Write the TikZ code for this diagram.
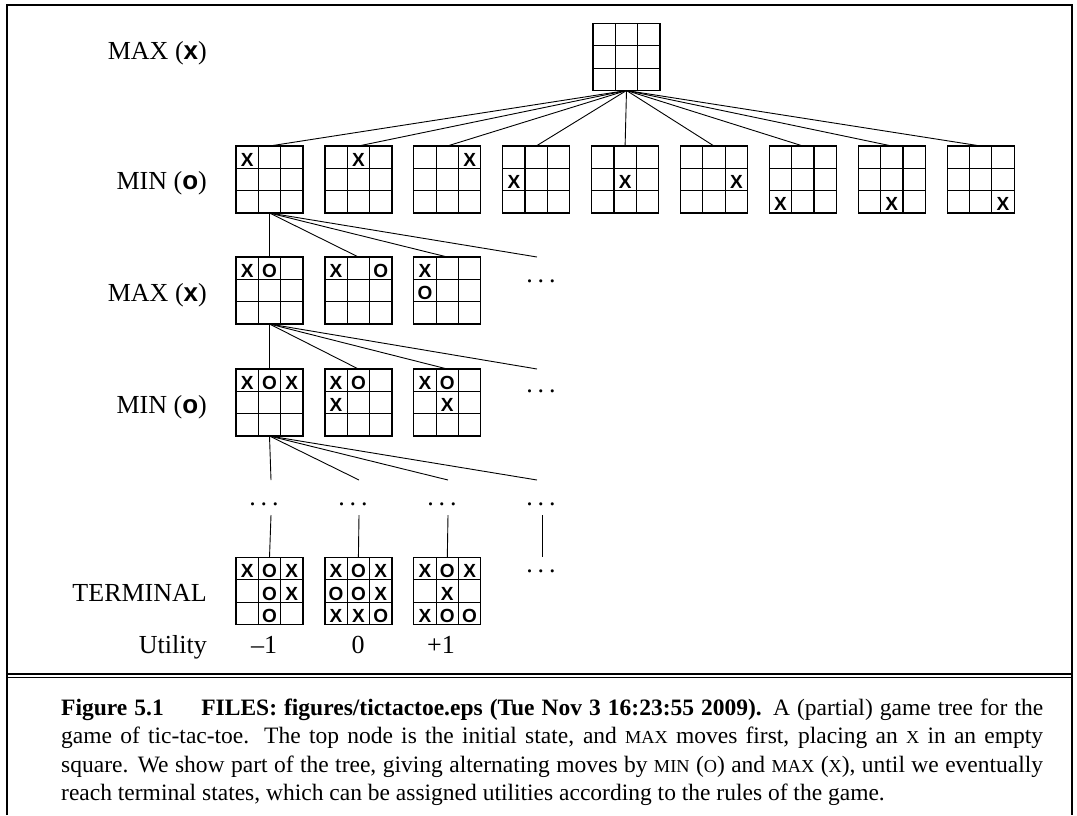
\documentclass[tikz,border=0pt]{standalone}
\usepackage{fontspec}
\setmainfont{Liberation Serif}
\setsansfont{Liberation Sans}
\begin{document}
\tikzset{
  board/.style={draw, line width=1.2pt, minimum size=67pt, inner sep=0pt, outer sep=0pt},
  gridl/.style={line width=1.2pt},
  mk/.style={font=\fontsize{19}{19}\selectfont\sffamily\bfseries, inner sep=0pt},
  edge/.style={line width=0.9pt},
  lab/.style={font=\fontsize{26}{26}\selectfont, anchor=base east, inner sep=0pt},
  util/.style={font=\fontsize{26}{26}\selectfont, anchor=base, inner sep=0pt},
  dotsn/.style={font=\fontsize{26}{26}\selectfont, anchor=base, inner sep=0pt},
  captxt/.style={font=\fontsize{23.5}{23.5}\selectfont, anchor=base west, inner sep=0pt},
  framel/.style={line width=2pt},
}
\newcommand\tttgrid[3]{%
  \node[board] (#1) at (#2,#3) {};
  \draw[gridl] (#2-11.167,#3-33.5) -- (#2-11.167,#3+33.5)
               (#2+11.167,#3-33.5) -- (#2+11.167,#3+33.5)
               (#2-33.5,#3-11.167) -- (#2+33.5,#3-11.167)
               (#2-33.5,#3+11.167) -- (#2+33.5,#3+11.167);
}
\newcommand\tttmarks[3]{%
  \foreach \cc/\rr/\mm in {#3} {\node[mk] at ({#1+(\cc-1)*22.333},{#2+(\rr-1)*22.333+2.5}) {\mm};}
}
\newcommand\tttb[4]{\tttgrid{#1}{#2}{#3}\tttmarks{#2}{#3}{#4}}
\newcommand\dotsx{.\kern4.8pt.\kern4.8pt.}
\newcommand\scx[1]{{\fontsize{18.3}{18.3}\selectfont #1}}
\begin{tikzpicture}[x=1pt,y=-1pt]
\useasboundingbox (0,0) rectangle (1077,815);
% frame
\draw[framel] (7,815) -- (7,5) -- (1072,5) -- (1072,815);
\draw[framel] (7,674.3) -- (1072,674.3);
\draw[line width=1.2pt] (7,677.6) -- (1072,677.6);
% labels
\node[lab] (l1) at (207,59) {MAX ({\sffamily\bfseries x})};
\node[lab] (l2) at (207,189) {MIN ({\sffamily\bfseries o})};
\node[lab] (l3) at (207,301) {MAX ({\sffamily\bfseries x})};
\node[lab] (l4) at (207,413) {MIN ({\sffamily\bfseries o})};
\node[lab] (l5) at (207,601) {TERMINAL};
\node[lab] (l6) at (207,653) {Utility};
% root
\tttgrid{r}{626.5}{57}
% MIN row
\tttb{a1}{269.5}{179.5}{0/0/X}
\tttb{a2}{358.4}{179.5}{1/0/X}
\tttb{a3}{447.3}{179.5}{2/0/X}
\tttb{a4}{536.2}{179.5}{0/1/X}
\tttb{a5}{625.1}{179.5}{1/1/X}
\tttb{a6}{714.0}{179.5}{2/1/X}
\tttb{a7}{802.9}{179.5}{0/2/X}
\tttb{a8}{891.8}{179.5}{1/2/X}
\tttb{a9}{980.7}{179.5}{2/2/X}
\foreach \k in {1,...,9} \draw[edge] (r.south) -- (a\k.north);
% MAX row
\tttb{b1}{269.5}{290.5}{0/0/X,1/0/O}
\tttb{b2}{358.4}{290.5}{0/0/X,2/0/O}
\tttb{b3}{447.3}{290.5}{0/0/X,0/1/O}
\coordinate (b4) at (537,257);
\foreach \k in {b1.north,b2.north,b3.north,b4} \draw[edge] (a1.south) -- (\k);
\node[dotsn] (db) at (541,282) {\dotsx};
% MIN row 2
\tttb{c1}{269.5}{402.5}{0/0/X,1/0/O,2/0/X}
\tttb{c2}{358.4}{402.5}{0/0/X,1/0/O,0/1/X}
\tttb{c3}{447.3}{402.5}{0/0/X,1/0/O,1/1/X}
\coordinate (c4) at (537,369);
\foreach \k in {c1.north,c2.north,c3.north,c4} \draw[edge] (b1.south) -- (\k);
\node[dotsn] (dc) at (541,392) {\dotsx};
% lower edges
\coordinate (e1) at (271,480);
\coordinate (e2) at (359,480);
\coordinate (e3) at (448,480);
\coordinate (e4) at (537,480);
\foreach \k in {e1,e2,e3,e4} \draw[edge] (c1.south) -- (\k);
\node[dotsn] (d1) at (264,505) {\dotsx};
\node[dotsn] (d2) at (353,505) {\dotsx};
\node[dotsn] (d3) at (442,505) {\dotsx};
\node[dotsn] (d4) at (541,505) {\dotsx};
% terminal
\tttb{t1}{269.5}{591}{0/0/X,1/0/O,2/0/X,1/1/O,2/1/X,1/2/O}
\tttb{t2}{358.4}{591}{0/0/X,1/0/O,2/0/X,0/1/O,1/1/O,2/1/X,0/2/X,1/2/X,2/2/O}
\tttb{t3}{447.3}{591}{0/0/X,1/0/O,2/0/X,1/1/X,0/2/X,1/2/O,2/2/O}
\coordinate (f1) at (271,515);
\coordinate (f2) at (359,515);
\coordinate (f3) at (448,515);
\coordinate (f4) at (542,515);
\coordinate (g4) at (542,557);
\draw[edge] (f1) -- (t1.north);
\draw[edge] (f2) -- (t2.north);
\draw[edge] (f3) -- (t3.north);
\draw[edge] (f4) -- (g4);
\node[dotsn] (d5) at (541,572.5) {\dotsx};
% utilities
\node[util] (u1) at (264,653) {\textendash1};
\node[util] (u2) at (358,653) {0};
\node[util] (u3) at (441,653) {+1};
% caption
\node[captxt] (cap1) at (61,715) {\makebox[982pt][s]{\textbf{Figure 5.1}\hspace{1.6em}\textbf{FILES: figures/tictactoe.eps (Tue Nov 3 16:23:55 2009).} A (partial) game tree for the}};
\node[captxt] (cap2) at (61,743.5) {\makebox[982pt][s]{game of tic-tac-toe. The top node is the initial state, and \scx{MAX} moves first, placing an \scx{X} in an empty}};
\node[captxt] (cap3) at (61,772) {\makebox[982pt][s]{square. We show part of the tree, giving alternating moves by \scx{MIN} (\scx{O}) and \scx{MAX} (\scx{X}), until we eventually}};
\node[captxt] (cap4) at (61,800.5) {reach terminal states, which can be assigned utilities according to the rules of the game.};
\end{tikzpicture}
\end{document}
